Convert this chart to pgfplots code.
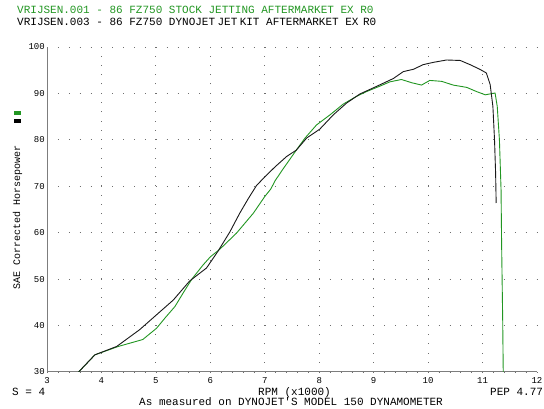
\documentclass[border=0pt]{standalone}
\usepackage{pgfplots}
\pgfplotsset{compat=1.18}
\usepackage{fontspec}
\setmainfont{Liberation Mono}
\newfontfamily\dyno{Liberation Mono}
\definecolor{dgreen}{RGB}{34,150,34}
\definecolor{axgray}{RGB}{125,125,125}
\definecolor{dotgray}{RGB}{110,110,110}
\begin{document}
\begin{tikzpicture}
\useasboundingbox (0pt,0pt) rectangle (544pt,409pt);
\begin{axis}[at={(47pt,37pt)}, anchor=south west, scale only axis,
  width=490pt, height=325pt,
  xmin=3, xmax=12, ymin=30, ymax=100,
  xtick={3,...,11}, extra x ticks={12}, extra x tick style={grid=none},
  ytick={30,40,...,100},
  axis x line=bottom, axis y line=left,
  axis line style={-, axgray, line width=1pt},
  major tick length=0pt,
  xmajorgrids, ymajorgrids,
  x grid style={dotgray, line width=0.9pt, dash pattern=on 0.9pt off 8.38pt},
  y grid style={dotgray, line width=0.9pt, dash pattern=on 0.9pt off 9.98pt},
  /pgf/number format/assume math mode=true,
  ticklabel style={font=\dyno\fontsize{9}{9}\selectfont, text=black},
  x tick label style={anchor=north, inner sep=0pt, yshift=-5.5pt},
  y tick label style={anchor=east, inner sep=0pt, xshift=-2pt},
]
\addplot[dgreen, line width=0.9pt, line join=round] coordinates {
(3.58,30.0)(3.88,33.7)(4.31,35.5)(4.76,37.0)(5.01,39.4)(5.18,41.8)(5.35,44.1)
(5.50,47.0)(5.66,50.0)(5.87,53.1)(6.00,54.8)(6.17,56.4)(6.48,59.9)(6.79,64.2)
(7.00,67.8)(7.11,69.4)(7.19,71.2)(7.34,73.8)(7.58,77.8)(7.74,80.4)(7.95,83.2)
(8.20,85.4)(8.44,87.7)(8.69,89.4)(8.87,90.4)(9.12,91.6)(9.30,92.5)(9.51,93.0)
(9.70,92.3)(9.88,91.8)(10.03,92.8)(10.25,92.6)(10.46,91.8)(10.71,91.3)(10.89,90.4)
(11.05,89.7)(11.23,90.1)(11.27,87.2)(11.31,80.0)(11.34,69.2)(11.35,57.7)(11.37,41.2)(11.38,30.0)
};
\addplot[black!90, line width=0.9pt, line join=round] coordinates {
(3.58,30.0)(3.88,33.7)(4.28,35.5)(4.70,39.1)(5.01,42.3)(5.32,45.5)(5.62,49.6)
(5.93,52.4)(6.14,56.0)(6.36,60.2)(6.54,64.2)(6.70,67.4)(6.85,70.2)(7.00,72.0)
(7.19,74.2)(7.40,76.4)(7.58,77.8)(7.77,80.4)(8.01,82.3)(8.26,85.4)(8.50,87.9)
(8.75,89.9)(9.05,91.5)(9.36,93.2)(9.545,94.7)(9.73,95.2)(9.91,96.2)(10.10,96.7)
(10.34,97.2)(10.59,97.1)(10.77,96.2)(10.95,95.2)(11.07,94.4)(11.14,91.9)(11.19,87.2)
(11.22,80.0)(11.24,72.8)(11.25,66.4)
};
\end{axis}
\begin{scope}[font=\dyno\fontsize{11}{11}\selectfont]
\node[anchor=base west, inner sep=0pt, text=dgreen] at (17pt,395.5pt) {VRIJSEN.001 - 86 FZ750 STOCK JETTING AFTERMARKET EX R0};
\node[anchor=base west, inner sep=0pt] at (17pt,383.1pt) {VRIJSEN.003 - 86 FZ750 DYNOJET\hspace{2.4pt}JET\hspace{2.4pt}KIT AFTERMARKET EX};
\node[anchor=base west, inner sep=0pt] at (362.8pt,383.1pt) {R0};
\node[anchor=base west, inner sep=0pt] at (12pt,13.8pt) {S = 4};
\node[anchor=base west, inner sep=0pt] at (258pt,13.8pt) {RPM (x1000)};
\node[anchor=base west, inner sep=0pt] at (490pt,13.8pt) {PEP 4.77};
\node[anchor=base west, inner sep=0pt] at (139pt,3.8pt) {As measured on DYNOJET'S MODEL 150 DYNAMOMETER};
\end{scope}
\node[rotate=90, inner sep=0pt, font=\dyno\fontsize{10}{10}\selectfont] at (17.5pt,192pt) {SAE Corrected Horsepower};
\fill[dgreen] (14pt,294pt) rectangle (21pt,298pt);
\fill[black] (14pt,286pt) rectangle (21pt,290pt);
\end{tikzpicture}
\end{document}
